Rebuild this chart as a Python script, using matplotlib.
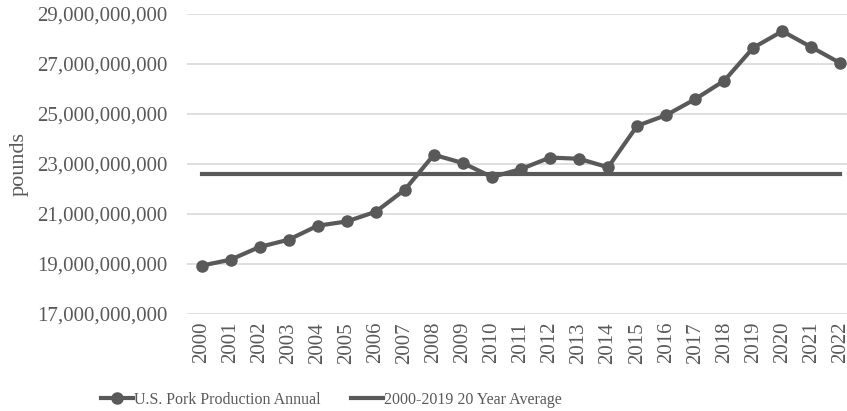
import numpy as np
import matplotlib.pyplot as plt
from matplotlib.ticker import FuncFormatter

# Producción anual de cerdo en EE.UU. (libras)
years = [str(y) for y in range(2000, 2023)]
production = [18.92e9, 19.16e9, 19.67e9, 19.96e9, 20.52e9, 20.69e9, 21.08e9,
              21.96e9, 23.36e9, 23.03e9, 22.47e9, 22.79e9, 23.25e9, 23.20e9,
              22.86e9, 24.52e9, 24.95e9, 25.59e9, 26.33e9, 27.65e9, 28.31e9,
              27.67e9, 27.03e9]
avg_2000_2019 = 22.6e9

gray = '#595959'
plt.rcParams['font.family'] = ['Liberation Serif', 'DejaVu Serif']

fig = plt.figure(figsize=(8.47, 4.11), dpi=100)
ax = fig.add_axes([0.2208, 0.237, 0.7886, 0.729])

x = np.arange(len(years))
ax.plot(x, production, color=gray, linewidth=3, marker='o', markersize=8,
        label='U.S. Pork Production Annual')
ax.plot(x, [avg_2000_2019] * len(years), color=gray, linewidth=3,
        label='2000-2019 20 Year Average')

# Ejes y cuadrícula
ax.set_xlim(-0.5, len(years) - 0.5)
ax.set_ylim(17e9, 29e9)
ax.set_yticks(np.arange(17e9, 29.1e9, 2e9))
ax.yaxis.set_major_formatter(FuncFormatter(lambda v, p: f'{v:,.0f}'))
ax.set_xticks(x)
ax.set_xticklabels(years, rotation=90)
ax.tick_params(length=0, colors=gray, labelsize=15)
ax.tick_params(axis='y', pad=14)
ax.tick_params(axis='x', pad=6)
ax.grid(axis='y', color='#d9d9d9', linewidth=1.2)
ax.set_axisbelow(True)
for s in ax.spines.values():
    s.set_visible(False)
ax.set_ylabel('pounds', color=gray, fontsize=16, labelpad=6)

fig.legend(loc='center', bbox_to_anchor=(0.391, 0.027), ncol=2, frameon=False,
           fontsize=11.5, labelcolor=gray, handlelength=2.0, handletextpad=0.05,
           columnspacing=1.9, borderaxespad=0)

plt.savefig('out.png', dpi=100)
